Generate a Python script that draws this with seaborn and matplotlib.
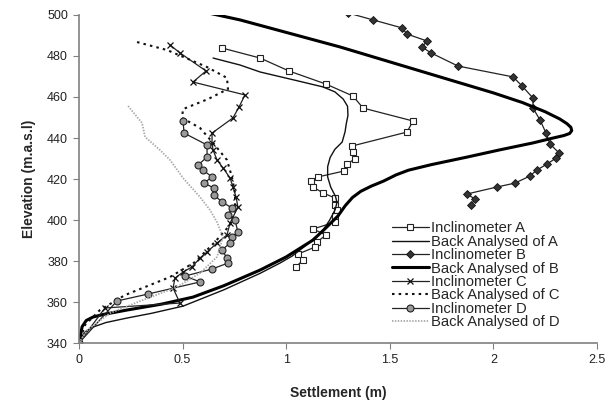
import matplotlib
matplotlib.use("Agg")
import matplotlib.pyplot as plt
import seaborn as sns

# ---------------- data (settlement m, elevation m.a.s.l) ----------------
incl_a_x = [0.69, 0.874, 1.013, 1.192, 1.322, 1.371, 1.612, 1.583, 1.318, 1.322, 1.332, 1.293,
            1.279, 1.153, 1.120, 1.129, 1.178, 1.236, 1.236, 1.245, 1.236, 1.236, 1.129, 1.192,
            1.149, 1.139, 1.057, 1.081, 1.047]
incl_a_y = [483.9, 479.0, 472.7, 466.3, 460.5, 454.6, 448.3, 442.9, 436.1, 433.2, 429.8, 427.3,
            423.9, 421.0, 419.0, 416.1, 413.2, 410.7, 407.3, 404.9, 402.0, 399.0, 395.6, 392.7,
            389.3, 386.8, 383.4, 380.5, 377.1]

back_a_x = [0.647, 0.777, 0.874, 1.05, 1.178, 1.235, 1.275, 1.296, 1.298, 1.290, 1.284, 1.270,
            1.235, 1.212, 1.200, 1.200, 1.215, 1.238, 1.245, 1.236, 1.210, 1.178, 1.10, 1.030,
            0.970, 0.874, 0.70, 0.502, 0.35, 0.232, 0.13, 0.068, 0.03, 0.012, 0.0]
back_a_y = [479.0, 475.6, 472.2, 468.0, 464.9, 462.5, 459.0, 455.5, 451.0, 447.0, 443.0, 438.0,
            434.5, 430.5, 426.0, 421.0, 416.0, 411.5, 408.5, 405.0, 400.0, 395.1, 388.0, 382.5,
            379.0, 374.0, 366.0, 358.0, 354.5, 352.2, 350.0, 347.8, 345.5, 343.0, 340.0]

incl_b_x = [1.298, 1.419, 1.559, 1.583, 1.680, 1.655, 1.699, 1.829, 2.095, 2.138, 2.191, 2.191,
            2.225, 2.254, 2.273, 2.317, 2.302, 2.259, 2.210, 2.177, 2.104, 2.017, 1.873, 1.911, 1.892]
incl_b_y = [501.0, 497.6, 493.7, 490.7, 487.3, 484.4, 481.5, 475.1, 469.8, 465.4, 459.5, 454.6,
            448.8, 442.4, 437.1, 432.7, 430.2, 427.3, 424.4, 421.5, 418.0, 416.1, 412.7, 410.2, 407.3]

back_b_x = [0.60, 0.777, 1.260, 1.742, 2.000, 2.140, 2.250, 2.320, 2.355, 2.374, 2.378, 2.368,
            2.340, 2.280, 2.191, 2.030, 1.873, 1.700, 1.590, 1.530, 1.470, 1.410, 1.360, 1.320,
            1.285, 1.250, 1.190, 1.129, 1.000, 0.874, 0.700, 0.550, 0.400, 0.232, 0.120, 0.068,
            0.035, 0.015, 0.0]
back_b_y = [501.5, 497.6, 484.4, 469.8, 462.0, 457.3, 452.8, 449.3, 447.0, 445.2, 443.6, 442.2,
            441.2, 439.8, 437.6, 434.2, 430.7, 427.0, 424.3, 422.0, 419.0, 416.5, 414.0, 411.0,
            407.0, 402.0, 396.0, 390.2, 382.0, 375.6, 368.0, 362.4, 359.0, 356.1, 354.0, 352.7,
            351.0, 348.0, 340.0]

incl_c_x = [0.439, 0.487, 0.613, 0.550, 0.801, 0.772, 0.743, 0.642, 0.642, 0.647, 0.666, 0.695,
            0.729, 0.743, 0.758, 0.767, 0.729, 0.714, 0.666, 0.618, 0.584, 0.545, 0.502, 0.463,
            0.454, 0.487, 0.125, 0.0]
incl_c_y = [485.4, 481.5, 472.7, 467.3, 461.0, 455.1, 449.8, 442.4, 437.6, 434.1, 429.3, 425.4,
            420.5, 416.1, 411.2, 406.3, 398.5, 392.7, 388.8, 384.4, 381.5, 377.1, 374.6, 371.7,
            366.8, 359.5, 357.1, 340.0]

back_c_x = [0.280, 0.425, 0.618, 0.714, 0.719, 0.623, 0.502, 0.497, 0.584, 0.647, 0.714, 0.738,
            0.753, 0.753, 0.729, 0.656, 0.560, 0.439, 0.222, 0.101, 0.029, 0.0]
back_c_y = [486.8, 482.9, 474.6, 469.3, 463.9, 459.0, 454.1, 449.8, 444.9, 437.6, 429.3, 421.0,
            413.2, 404.9, 397.6, 389.3, 379.5, 372.2, 363.4, 356.1, 348.8, 340.0]

incl_d_x = [0.502, 0.507, 0.618, 0.618, 0.574, 0.598, 0.642, 0.603, 0.652, 0.652, 0.690, 0.738,
            0.719, 0.753, 0.767, 0.738, 0.729, 0.690, 0.714, 0.719, 0.642, 0.512, 0.584, 0.333,
            0.183, 0.0]
incl_d_y = [448.3, 442.4, 436.6, 430.7, 426.8, 424.4, 421.0, 418.0, 415.6, 412.2, 408.8, 405.9,
            402.4, 400.0, 394.1, 391.7, 388.8, 385.4, 381.5, 379.0, 376.1, 372.7, 369.8, 363.9,
            360.5, 340.0]

back_d_x = [0.237, 0.304, 0.319, 0.391, 0.439, 0.502, 0.584, 0.632, 0.666, 0.695, 0.666, 0.584,
            0.473, 0.309, 0.150, 0.039, 0.0]
back_d_y = [455.6, 447.3, 440.5, 434.1, 429.3, 420.5, 411.2, 404.9, 399.0, 391.7, 382.0, 374.1,
            367.3, 361.0, 354.6, 346.3, 340.0]

labels = ["Inclinometer A", "Back Analysed of A", "Inclinometer B", "Back Analysed of B",
          "Inclinometer C", "Back Analysed of C", "Inclinometer D", "Back Analysed of D"]
x_ticks = [0, 0.5, 1, 1.5, 2, 2.5]
y_ticks = [340, 360, 380, 400, 420, 440, 460, 480, 500]

# ---------------- plot ----------------
sns.set_style("ticks")
plt.rcParams["font.family"] = ["Liberation Sans", "DejaVu Sans"]

fig = plt.figure(figsize=(6.14, 4.05), dpi=100)
ax = fig.add_axes([0.1287, 0.153, 0.8436, 0.810])

common = dict(ax=ax, sort=False, estimator=None)
sns.lineplot(x=incl_a_x, y=incl_a_y, color="#222222", lw=0.9, marker="s", markersize=4.5,
             markerfacecolor="white", markeredgecolor="#222222", markeredgewidth=0.8,
             label=labels[0], **common)
sns.lineplot(x=back_a_x, y=back_a_y, color="#111111", lw=1.0, label=labels[1], **common)
sns.lineplot(x=incl_b_x, y=incl_b_y, color="#222222", lw=0.9, marker="D", markersize=3.6,
             markerfacecolor="#333333", markeredgecolor="#111111", markeredgewidth=0.6,
             label=labels[2], **common)
sns.lineplot(x=back_b_x, y=back_b_y, color="#000000", lw=2.2, label=labels[3], **common)
sns.lineplot(x=incl_c_x, y=incl_c_y, color="#222222", lw=0.9, marker="x", markersize=5,
             markeredgecolor="#111111", markeredgewidth=0.9, label=labels[4], **common)
sns.lineplot(x=back_c_x, y=back_c_y, color="#111111", lw=1.5, linestyle=(0, (1.2, 2.0)),
             label=labels[5], **common)
sns.lineplot(x=incl_d_x, y=incl_d_y, color="#222222", lw=0.9, marker="o", markersize=5,
             markerfacecolor="#9a9a9a", markeredgecolor="#222222", markeredgewidth=0.8,
             label=labels[6], **common)
sns.lineplot(x=back_d_x, y=back_d_y, color="#a8a8a8", lw=1.3, linestyle=(0, (0.8, 0.8)),
             label=labels[7], **common)

ax.set_xlim(0, 2.5)
ax.set_ylim(340, 500)
ax.set_xticks(x_ticks)
ax.set_xticklabels([f"{t:g}" for t in x_ticks])
ax.set_yticks(y_ticks)
ax.tick_params(axis="both", labelsize=9, colors="#222222", length=4, width=0.8, pad=4)
ax.tick_params(axis="both", color="#808080")
for side in ["left", "bottom"]:
    ax.spines[side].set_color("#808080")
    ax.spines[side].set_linewidth(1.2)
sns.despine(ax=ax)
ax.set_xlabel("Settlement (m)", fontsize=10, fontweight="bold", labelpad=14)
ax.set_ylabel("Elevation (m.a.s.l)", fontsize=10, fontweight="bold", labelpad=8)

leg = ax.legend(loc="lower right", bbox_to_anchor=(0.945, 0.015), frameon=False, fontsize=10.6,
                labelspacing=-0.04, handlelength=2.5, handletextpad=0.15, borderpad=0.1)

fig.savefig("out.png", dpi=100)
